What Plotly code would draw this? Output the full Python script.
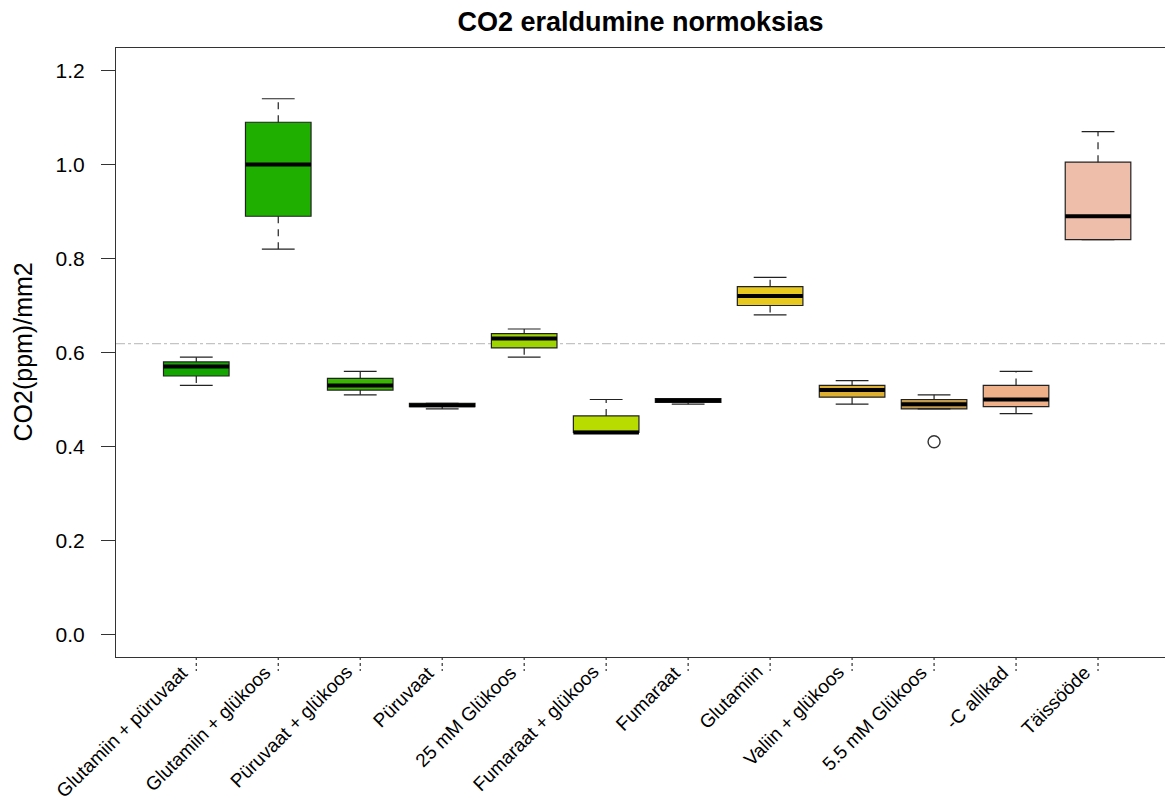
import plotly.graph_objects as go

# Carbon sources (x categories)
labels = [
    "Glutamiin + püruvaat", "Glutamiin + glükoos", "Püruvaat + glükoos",
    "Püruvaat", "25 mM Glükoos", "Fumaraat + glükoos", "Fumaraat",
    "Glutamiin", "Valiin + glükoos", "5.5 mM Glükoos", "-C allikad", "Täissööde",
]

# Five-number summaries per group
whisker_low = [0.53, 0.82, 0.51, 0.48, 0.59, 0.43, 0.49, 0.68, 0.49, 0.48, 0.47, 0.84]
q1 = [0.55, 0.89, 0.52, 0.485, 0.61, 0.43, 0.494, 0.70, 0.505, 0.48, 0.485, 0.84]
median = [0.57, 1.00, 0.53, 0.488, 0.63, 0.43, 0.498, 0.72, 0.52, 0.49, 0.50, 0.89]
q3 = [0.58, 1.09, 0.545, 0.492, 0.64, 0.465, 0.502, 0.74, 0.53, 0.50, 0.53, 1.005]
whisker_high = [0.59, 1.14, 0.56, 0.492, 0.65, 0.50, 0.502, 0.76, 0.54, 0.51, 0.56, 1.07]

# Outlying points (group index, value)
outlier_group = [10]
outlier_value = [0.41]

# Reference level drawn across the panel
reference_level = 0.619

y_ticks = [0.0, 0.2, 0.4, 0.6, 0.8, 1.0, 1.2]

colors = [
    "#14A600", "#1FAF00", "#3AB600", "#6CC400", "#9ED400", "#B8DC00",
    "#D2D800", "#E6C81E", "#DDB032", "#C49A4C", "#EEB088", "#EEBEAA",
]

FONT = "Liberation Sans, Arial, sans-serif"
BOX_W = 0.8
CAP_W = 0.4
PLOT_L, PLOT_T, PLOT_B, W, H = 116, 48, 150, 1165, 807
PLOT_H = H - PLOT_T - PLOT_B
PLOT_W = W - PLOT_L

positions = list(range(1, len(labels) + 1))
fig = go.Figure()

# Dashed whiskers
wx, wy = [], []
for x, lo, a, b, hi in zip(positions, whisker_low, q1, q3, whisker_high):
    wx += [x, x, None, x, x, None]
    wy += [b, hi, None, a, lo, None]
fig.add_trace(go.Scatter(x=wx, y=wy, mode="lines",
                         line=dict(color="#222222", width=1.2, dash="7px,6px"),
                         hoverinfo="skip", showlegend=False))

# Whisker caps
cx, cy = [], []
for x, lo, hi in zip(positions, whisker_low, whisker_high):
    cx += [x - CAP_W / 2, x + CAP_W / 2, None, x - CAP_W / 2, x + CAP_W / 2, None]
    cy += [hi, hi, None, lo, lo, None]
fig.add_trace(go.Scatter(x=cx, y=cy, mode="lines",
                         line=dict(color="#222222", width=1.2),
                         hoverinfo="skip", showlegend=False))

# Boxes
for x, a, m, b, c, name in zip(positions, q1, median, q3, colors, labels):
    fig.add_trace(go.Box(
        x=[x], q1=[a], median=[m], q3=[b], lowerfence=[a], upperfence=[b],
        width=BOX_W, whiskerwidth=0, fillcolor=c, boxpoints=False,
        line=dict(color="#222222", width=1.2), name=name, showlegend=False,
    ))

# Thick median bars
mx, my = [], []
for x, m in zip(positions, median):
    mx += [x - BOX_W / 2, x + BOX_W / 2, None]
    my += [m, m, None]
fig.add_trace(go.Scatter(x=mx, y=my, mode="lines",
                         line=dict(color="black", width=4),
                         hoverinfo="skip", showlegend=False))

# Outliers
fig.add_trace(go.Scatter(
    x=outlier_group, y=outlier_value, mode="markers",
    marker=dict(symbol="circle-open", size=12, color="#333333", line=dict(width=1.4)),
    hoverinfo="skip", showlegend=False))

# Horizontal reference line
fig.add_shape(type="line", xref="paper", yref="y", x0=0, x1=1,
              y0=reference_level, y1=reference_level,
              line=dict(color="#C4C4C4", width=1.2, dash="dashdot"), layer="below")

# Dotted tick marks under the x axis, with slanted category labels
tick_len = 14 / PLOT_H
for x, lab in zip(positions, labels):
    fig.add_shape(type="line", xref="x", yref="paper", x0=x, x1=x, y0=0, y1=-tick_len,
                  line=dict(color="#333333", width=1.2, dash="dot"))
    fig.add_annotation(x=x, y=0, xref="x", yref="paper", text=lab, showarrow=False,
                       textangle=-45, xanchor="right", yanchor="top",
                       xshift=-1, yshift=-2,
                       font=dict(size=19, family=FONT, color="black"))

# Y axis title
fig.add_annotation(x=-(PLOT_L - 22) / PLOT_W, y=0.5, xref="paper", yref="paper",
                   text="CO2(ppm)/mm2", showarrow=False, textangle=-90,
                   xanchor="center", yanchor="middle",
                   font=dict(size=25, family=FONT, color="black"))

fig.update_layout(
    width=W, height=H,
    margin=dict(l=PLOT_L, r=0, t=PLOT_T, b=PLOT_B),
    paper_bgcolor="white", plot_bgcolor="white",
    font=dict(family=FONT, color="black"),
    title=dict(text="<b>CO2 eraldumine normoksias</b>", x=0.5, xref="paper",
               xanchor="center", y=1 - 22 / H, yanchor="middle",
               font=dict(size=27, family=FONT)),
    showlegend=False,
)

fig.update_xaxes(
    range=[0.0207, 12.817], tickmode="array", tickvals=positions,
    showticklabels=False, ticks="", showgrid=False, zeroline=False,
    showline=True, mirror=True, linecolor="#333333", linewidth=1.2,
)
fig.update_yaxes(
    range=[-0.048, 1.248], tickmode="array", tickvals=y_ticks,
    ticktext=[f"{v:.1f}" for v in y_ticks],
    ticks="outside", ticklen=14, tickwidth=1.2, tickcolor="#333333",
    showgrid=False, zeroline=False, showline=True, mirror=False,
    linecolor="#333333", linewidth=1.2,
    tickfont=dict(size=21, family=FONT), ticklabelstandoff=12,
)

fig.write_html("out.html")
